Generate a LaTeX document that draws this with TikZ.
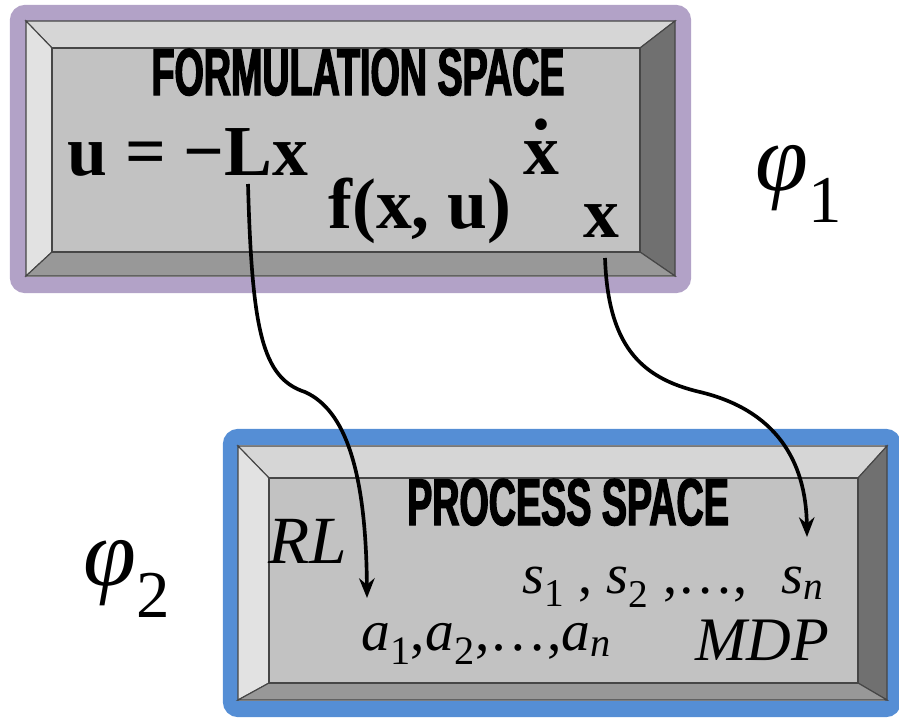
\documentclass[tikz,border=0pt]{standalone}
\usepackage{fontspec}
\setmainfont{Liberation Serif}
\newfontfamily\headfont[FakeStretch=0.57,BoldFeatures={FakeBold=2}]{Liberation Sans}
\usetikzlibrary{arrows.meta}
\definecolor{framepurple}{RGB}{178,162,199}
\definecolor{frameblue}{RGB}{85,142,213}
\definecolor{facegray}{RGB}{194,194,194}
\definecolor{topgray}{RGB}{214,214,214}
\definecolor{leftgray}{RGB}{226,226,226}
\definecolor{rightgray}{RGB}{112,112,112}
\definecolor{bottomgray}{RGB}{152,152,152}
\definecolor{edgegray}{RGB}{70,70,70}

\begin{document}
\begin{tikzpicture}[x=0.025cm,y=-0.025cm,
  frame/.style={line width=11.4pt,rounded corners=5pt},
  bevel/.style={draw=edgegray,line width=0.8pt},
  head/.style={inner sep=0pt,anchor=base,font=\headfont\bfseries\fontsize{47pt}{54pt}\selectfont},
  formula/.style={inner sep=0pt,anchor=base west,font=\bfseries\fontsize{51pt}{60pt}\selectfont},
  label/.style={inner sep=0pt,anchor=base west},
  phi/.style={inner sep=0pt,anchor=base west,font=\itshape\fontsize{68pt}{78pt}\selectfont},
  link/.style={line width=2.6pt,-{Stealth[length=14pt,width=11pt]}}]
\useasboundingbox (0,0) rectangle (899,718);

% formulation space
\draw[frame,draw=framepurple] (18,13) rectangle (683,285);
\fill[bevel,fill=topgray] (26,21) -- (675,21) -- (640,48) -- (52,48) -- cycle;
\fill[bevel,fill=leftgray] (26,21) -- (52,48) -- (52,252) -- (26,276) -- cycle;
\fill[bevel,fill=rightgray] (675,21) -- (675,276) -- (640,252) -- (640,48) -- cycle;
\fill[bevel,fill=bottomgray] (26,276) -- (52,252) -- (640,252) -- (675,276) -- cycle;
\fill[bevel,fill=facegray] (52,48) rectangle (640,252);

% process space
\draw[frame,draw=frameblue] (231,437) rectangle (893,709);
\fill[bevel,fill=topgray] (238,446) -- (887,446) -- (858,478) -- (269,478) -- cycle;
\fill[bevel,fill=leftgray] (238,446) -- (269,478) -- (269,683) -- (238,700) -- cycle;
\fill[bevel,fill=rightgray] (887,446) -- (887,700) -- (858,683) -- (858,478) -- cycle;
\fill[bevel,fill=bottomgray] (238,700) -- (269,683) -- (858,683) -- (887,700) -- cycle;
\fill[bevel,fill=facegray] (269,478) rectangle (858,683);

\node[head] (fhead) at (358,95) {FORMULATION SPACE};
\node[formula] (ctrl) at (67,175) {u = −Lx};
\node[formula] (dyn) at (328,228) {f(x, u)};
\node[formula] (xdot) at (523,174) {\ooalign{x\cr\hidewidth\raisebox{0.62em}{.}\hidewidth\cr}};
\node[formula] (xstate) at (583,237) {x};
\node[phi] (phione) at (755,190) {φ\textsubscript{\upshape 1}};

\node[head] (phead) at (568,525) {PROCESS SPACE};
\node[label,font=\itshape\fontsize{48pt}{56pt}\selectfont] (rl) at (268,563) {RL};
\node[label,font=\fontsize{40pt}{48pt}\selectfont] (states) at (522,593)
  {\textit{s}\textsubscript{1} , \textit{s}\textsubscript{2} ,…,\hspace{0.6em}\textit{s}\textsubscript{\textit{n}}};
\node[label,font=\fontsize{41pt}{48pt}\selectfont] (actions) at (361,650)
  {\textit{a}\textsubscript{1},\textit{a}\textsubscript{2},…,\textit{a}\textsubscript{\textit{n}}};
\node[label,font=\itshape\fontsize{44pt}{52pt}\selectfont] (mdp) at (695,660) {MDP};
\node[phi] (phitwo) at (83,585) {φ\textsubscript{\upshape 2}};

\coordinate (lfoot) at (248,184);
\coordinate (xfoot) at (605,258);
\coordinate (ahead) at (367,598);
\coordinate (shead) at (807,537);
\draw[link] (lfoot) .. controls (252,330) and (262,378) .. (305,392)
  .. controls (345,410) and (366,470) .. (ahead);
\draw[link] (xfoot) .. controls (608,345) and (640,378) .. (700,392)
  .. controls (775,410) and (806,460) .. (shead);
\end{tikzpicture}
\end{document}
